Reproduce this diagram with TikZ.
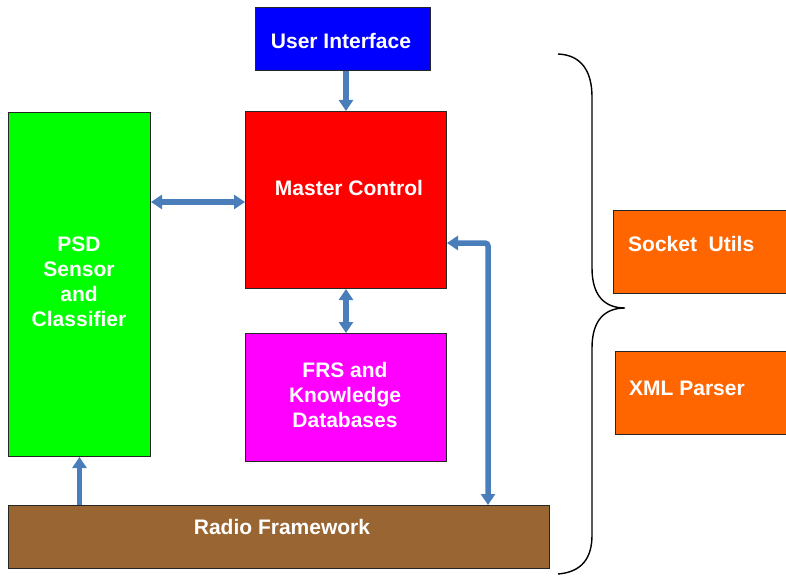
\documentclass[tikz,border=0pt]{standalone}
\usepackage{fontspec}
\setmainfont{Liberation Sans}
\usetikzlibrary{arrows.meta}
\definecolor{uiblue}{RGB}{0,0,255}
\definecolor{mcred}{RGB}{255,0,0}
\definecolor{psdgreen}{RGB}{0,255,0}
\definecolor{frsmag}{RGB}{255,0,255}
\definecolor{rfbrown}{RGB}{153,102,51}
\definecolor{utilorange}{RGB}{255,102,0}
\definecolor{linkblue}{RGB}{74,126,187}

\begin{document}
\begin{tikzpicture}[x=1pt,y=-1pt,
  block/.style={draw=black!85, line width=1pt, rectangle, inner sep=0pt, anchor=north west},
  lbl/.style={text=white, font=\fontsize{21}{25}\selectfont\bfseries, align=center, inner sep=0pt},
  tip/.tip={Triangle[width=14pt,length=11pt]},
  link/.style={draw=linkblue, line width=5.5pt, -tip},
  duplex/.style={draw=linkblue, line width=5.5pt, tip-tip},
  brace/.style={draw=black, line width=1.4pt}]

\useasboundingbox (0,0) rectangle (786,575);
\clip (0,0) rectangle (786,575);

% blocks
\node[block, fill=uiblue, minimum width=175pt, minimum height=63pt] (ui) at (255,7) {};
\node[block, fill=mcred, minimum width=201pt, minimum height=177pt] (mc) at (245,111) {};
\node[block, fill=psdgreen, minimum width=142pt, minimum height=344pt] (psd) at (8,112) {};
\node[block, fill=frsmag, minimum width=201pt, minimum height=128pt] (frs) at (245,333) {};
\node[block, fill=rfbrown, minimum width=541pt, minimum height=63pt] (rf) at (8,505) {};
\node[block, fill=utilorange, minimum width=190pt, minimum height=83pt] (sock) at (613,210) {};
\node[block, fill=utilorange, minimum width=190pt, minimum height=83pt] (xml) at (615,351) {};

% labels
\node[lbl] (uit) at (341,41) {User Interface};
\node[lbl] (mct) at (349,188) {Master Control};
\node[lbl] (psdt) at (79,282) {PSD\\Sensor\\and\\Classifier};
\node[lbl] (frst) at (345,395) {FRS and\\Knowledge\\Databases};
\node[lbl] (rft) at (282,527) {Radio Framework};
\node[lbl, anchor=west] (sockt) at (628,244) {Socket~ Utils};
\node[lbl, anchor=west] (xmlt) at (629,388) {XML Parser};

% connectors
\coordinate (bend) at (488,243);
\draw[link] (mc.north |- ui.south) -- (mc.north);
\draw[duplex] (psd.east |- 0,202) -- (mc.west |- 0,202);
\draw[duplex] (mc.south) -- (frs.north);
\draw[duplex, rounded corners=3pt] (mc.east |- bend) -- (bend) -- (bend |- rf.north);
\draw[link] (rf.north -| psd.south) -- (psd.south);

% brace grouping the utility blocks
\draw[brace] (558,54) .. controls (582,55) and (592,72) .. (592,97)
  -- (592,268) .. controls (592,295) and (604,308) .. (625,308)
  .. controls (604,308) and (592,321) .. (592,348)
  -- (592,535) .. controls (592,558) and (582,572) .. (558,574);
\end{tikzpicture}
\end{document}
